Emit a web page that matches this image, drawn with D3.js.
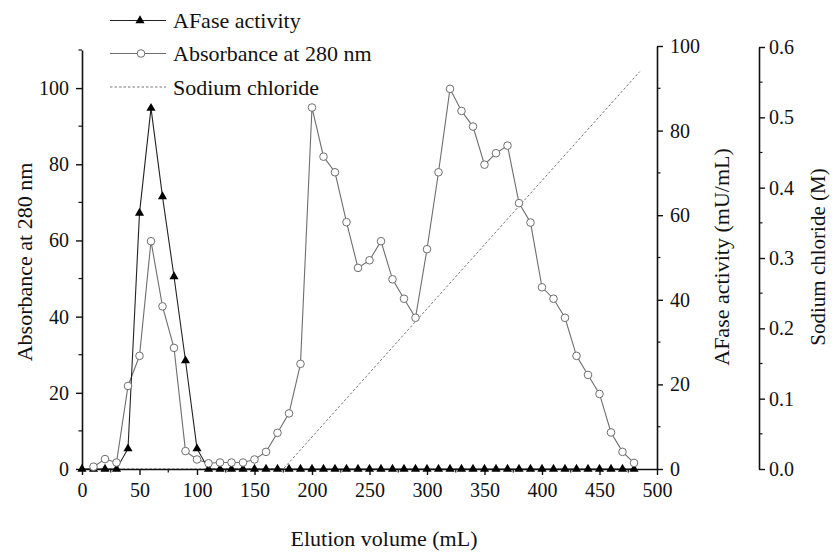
<!DOCTYPE html>
<html>
<head>
<meta charset="utf-8">
<script src="https://cdn.jsdelivr.net/npm/d3@7"></script>
<style>
  body { margin: 0; background: #fff; }
</style>
</head>
<body>
<svg id="chart" width="832" height="554"></svg>
<script>
// ---------- data ----------
const absorbanceVolume = [10,20,30,40,50,60,70,80,90,100,110,120,130,140,150,160,170,180,190,200,210,220,230,240,250,260,270,280,290,300,310,320,330,340,350,360,370,380,390,400,410,420,430,440,450,460,470,480];
const absorbanceValue  = [0.6,2.6,1.7,21.8,29.7,59.8,42.7,31.8,4.7,2.5,1.5,1.7,1.7,1.7,2.5,4.5,9.5,14.6,27.6,94.9,82,77.9,64.8,52.8,54.8,59.8,49.8,44.7,39.7,57.7,77.9,99.8,94,89.9,79.9,82.9,84.9,69.8,64.7,47.7,44.7,39.7,29.7,24.7,19.7,9.6,4.5,1.6];
const afaseVolume = [0,10,20,30,40,50,60,70,80,90,100,110,120,130,140,150,160,170,180,190,200,210,220,230,240,250,260,270,280,290,300,310,320,330,340,350,360,370,380,390,400,410,420,430,440,450,460,470,480];
const afaseValue  = [0,0,0,0,4.8,60.5,85.3,64.4,45.5,25.6,4.8,0,0,0,0,0,0,0,0,0,0,0,0,0,0,0,0,0,0,0,0,0,0,0,0,0,0,0,0,0,0,0,0,0,0,0,0,0,0];
const naclVolume = [0,175,485];
const naclValue  = [0,0,0.565];
const xTicks = [0,50,100,150,200,250,300,350,400,450,500];
const leftTicks = [0,20,40,60,80,100];
const afaseTicks = [0,20,40,60,80,100];
const naclTicks = [0,0.1,0.2,0.3,0.4,0.5,0.6];
const legendLabels = ["AFase activity","Absorbance at 280 nm","Sodium chloride"];
const xTitle = "Elution volume (mL)";
const leftTitle = "Absorbance at 280 nm";
const afaseTitle = "AFase activity (mU/mL)";
const naclTitle = "Sodium chloride (M)";

// ---------- scales ----------
const svg = d3.select("#chart");
const x = d3.scaleLinear().domain([0,500]).range([82,657]);
const yL = d3.scaleLinear().domain([0,110]).range([469,50]);
const yA = d3.scaleLinear().domain([0,100]).range([469,46]);
const yN = d3.scaleLinear().domain([0,0.6]).range([469,47]);

const FONT = '"Times New Roman", "Liberation Serif", Times, "DejaVu Serif", "Noto Serif", serif';
const FS = 20;
const TS = 22;
const ink = "#111";

function styleAxis(g){
  g.attr("font-family", null);
  g.selectAll("path.domain").attr("stroke", ink).attr("stroke-width", 1.6);
  g.selectAll(".tick line").attr("stroke", ink).attr("stroke-width", 1.4);
  g.selectAll(".tick text").style("font-size", FS + "px").style("font-family", FONT).attr("fill", ink);
}
function minor(g, scale, vals, orient, len){
  g.selectAll("line.minor").data(vals).join("line").attr("class","minor")
    .attr("stroke", ink).attr("stroke-width", 1.2)
    .each(function(d){
      const s = d3.select(this);
      if (orient === "bottom") s.attr("x1", scale(d)).attr("x2", scale(d)).attr("y1", 0).attr("y2", len);
      else if (orient === "left") s.attr("y1", scale(d)).attr("y2", scale(d)).attr("x1", 0).attr("x2", -len);
      else s.attr("y1", scale(d)).attr("y2", scale(d)).attr("x1", 0).attr("x2", len);
    });
}
function txt(sel, size){
  return sel.style("font-family", FONT).style("font-size", size + "px").attr("fill", ink);
}

// ---------- series ----------
svg.append("path")
  .datum(naclVolume.map((v,i)=>[v,naclValue[i]]))
  .attr("fill","none").attr("stroke","#777").attr("stroke-width",1)
  .attr("stroke-dasharray","2.5,2")
  .attr("d", d3.line().x(d=>x(d[0])).y(d=>yN(d[1])));

const absData = absorbanceVolume.map((v,i)=>[v,absorbanceValue[i]]);
svg.append("path").datum(absData)
  .attr("fill","none").attr("stroke","#6e6e6e").attr("stroke-width",1.1)
  .attr("d", d3.line().x(d=>x(d[0])).y(d=>yL(d[1])));

const afData = afaseVolume.map((v,i)=>[v,afaseValue[i]]);
svg.append("path").datum(afData)
  .attr("fill","none").attr("stroke","#222").attr("stroke-width",1.1)
  .attr("d", d3.line().x(d=>x(d[0])).y(d=>yA(d[1])));

// ---------- axes ----------
const gx = svg.append("g").attr("transform","translate(0,469)")
  .call(d3.axisBottom(x).tickValues(xTicks).tickSize(6).tickPadding(8).tickSizeOuter(0));
styleAxis(gx);
minor(gx, x, d3.range(25,500,50), "bottom", 3.5);

const gl = svg.append("g").attr("transform","translate(82,0)")
  .call(d3.axisLeft(yL).tickValues(leftTicks).tickSize(6).tickPadding(7).tickSizeOuter(0));
styleAxis(gl);
minor(gl, yL, d3.range(10,111,20), "left", 3.5);

const ga = svg.append("g").attr("transform","translate(657,0)")
  .call(d3.axisRight(yA).tickValues(afaseTicks).tickSize(6).tickPadding(7).tickSizeOuter(0));
styleAxis(ga);
minor(ga, yA, d3.range(10,100,20), "right", 3.5);

const gn = svg.append("g").attr("transform","translate(759,0)")
  .call(d3.axisRight(yN).tickValues(naclTicks).tickFormat(d3.format(".1f")).tickSize(6).tickPadding(4).tickSizeOuter(0));
styleAxis(gn);
minor(gn, yN, [0.05,0.15,0.25,0.35,0.45,0.55], "right", 3.5);

// markers
const tri = d3.symbol().type(d3.symbolTriangle).size(36);
svg.append("g").selectAll("path").data(afData).join("path")
  .attr("d", tri).attr("fill","#000")
  .attr("transform", d=>`translate(${x(d[0])},${yA(d[1])})`);
svg.append("g").selectAll("circle").data(absData).join("circle")
  .attr("cx", d=>x(d[0])).attr("cy", d=>yL(d[1])).attr("r",3.8)
  .attr("fill","#fff").attr("stroke","#6e6e6e").attr("stroke-width",1);

// ---------- titles ----------
txt(svg.append("text"), TS).attr("x",384).attr("y",546).attr("text-anchor","middle").text(xTitle);
txt(svg.append("text"), TS).attr("transform","translate(32,262) rotate(-90)").attr("text-anchor","middle").text(leftTitle);
txt(svg.append("text"), TS).attr("transform","translate(729,257) rotate(-90)").attr("text-anchor","middle").text(afaseTitle);
txt(svg.append("text"), 21).attr("transform","translate(825,257) rotate(-90)").attr("text-anchor","middle").text(naclTitle);

// ---------- legend ----------
const legY = [20.5, 53.5, 87];
const leg = svg.append("g");
legendLabels.forEach((lab,i)=>{
  const y = legY[i];
  const line = leg.append("line").attr("x1",110).attr("x2",166).attr("y1",y).attr("y2",y)
    .attr("stroke", i===0 ? "#222" : (i===1 ? "#6e6e6e" : "#777")).attr("stroke-width",1.1);
  if (i===2) line.attr("stroke-dasharray","2.5,2");
  if (i===0) leg.append("path").attr("d",tri).attr("fill","#000").attr("transform",`translate(140,${y})`);
  if (i===1) leg.append("circle").attr("cx",141).attr("cy",y).attr("r",3.8).attr("fill","#fff").attr("stroke","#6e6e6e");
  txt(leg.append("text"), TS).attr("x",173).attr("y",y+7.5).text(lab);
});
</script>
</body>
</html>
